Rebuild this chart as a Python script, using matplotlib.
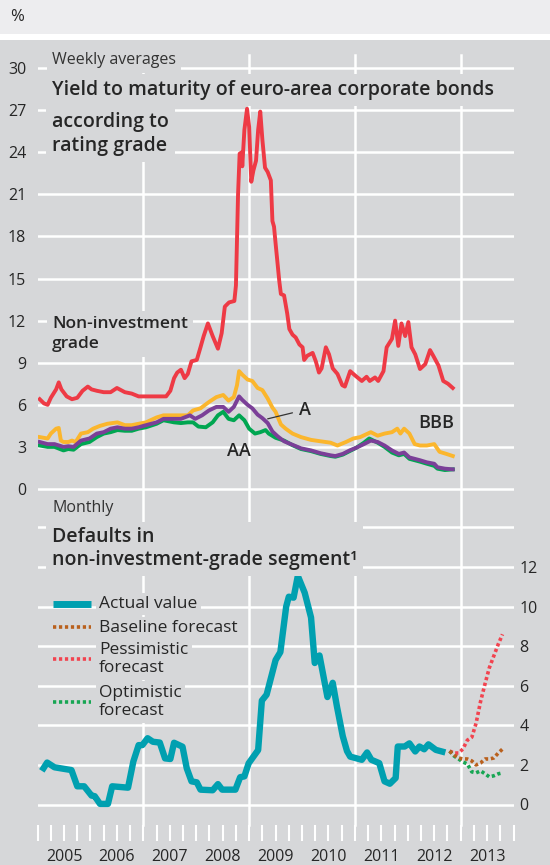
import numpy as np
import matplotlib
matplotlib.use("Agg")
import matplotlib.pyplot as plt
from matplotlib.lines import Line2D
import matplotlib.transforms as mtrans

plt.rcParams['font.family'] = ['Open Sans', 'DejaVu Sans']

# ---------------- data ----------------
# Yield to maturity (weekly averages), decimal years
hy_t = [2005.04, 2005.12, 2005.19, 2005.25, 2005.35, 2005.40, 2005.45, 2005.55, 2005.65, 2005.75,
        2005.85, 2005.95, 2006.02, 2006.12, 2006.25, 2006.38, 2006.50, 2006.65, 2006.78, 2006.91,
        2007.05, 2007.25, 2007.43, 2007.51, 2007.58, 2007.64, 2007.71, 2007.78, 2007.84, 2007.91,
        2008.01, 2008.08, 2008.14, 2008.22, 2008.31, 2008.41, 2008.48, 2008.54, 2008.62, 2008.72,
        2008.75, 2008.79, 2008.82, 2008.86, 2008.87, 2008.91, 2008.96, 2009.00, 2009.04, 2009.08,
        2009.13, 2009.17, 2009.21, 2009.25, 2009.30, 2009.35, 2009.41, 2009.44, 2009.47, 2009.50,
        2009.57, 2009.60, 2009.66, 2009.72, 2009.76, 2009.82, 2009.88, 2009.95, 2010.01, 2010.04,
        2010.10, 2010.20, 2010.26, 2010.32, 2010.37, 2010.45, 2010.51, 2010.58, 2010.67, 2010.76,
        2010.81, 2010.91, 2011.00, 2011.13, 2011.22, 2011.28, 2011.38, 2011.44, 2011.54, 2011.60,
        2011.70, 2011.76, 2011.82, 2011.88, 2011.95, 2012.01, 2012.07, 2012.14, 2012.23, 2012.33,
        2012.42, 2012.48, 2012.58, 2012.67, 2012.76, 2012.85]
hy_v = [6.4, 6.1, 6.0, 6.5, 7.1, 7.6, 7.1, 6.6, 6.4, 6.5,
        7.0, 7.3, 7.1, 7.0, 6.9, 6.9, 7.2, 6.9, 6.8, 6.6,
        6.6, 6.6, 6.6, 7.0, 7.9, 8.3, 8.5, 7.9, 8.2, 9.1,
        9.2, 10.1, 10.9, 11.8, 10.9, 10.0, 11.1, 13.0, 13.3, 13.4,
        14.5, 21.0, 23.9, 24.0, 23.0, 25.6, 27.1, 25.8, 21.9, 22.7,
        23.4, 25.6, 26.9, 24.9, 22.9, 22.6, 22.0, 19.1, 18.7, 17.5,
        14.8, 13.9, 13.8, 12.5, 11.4, 11.0, 10.8, 10.3, 10.1, 9.2,
        9.5, 9.7, 9.1, 8.3, 8.6, 10.1, 9.6, 8.6, 8.2, 7.4,
        7.3, 8.4, 8.1, 7.7, 8.0, 7.7, 7.95, 7.7, 8.4, 10.1,
        10.7, 12.0, 10.2, 11.8, 10.9, 11.9, 10.1, 9.6, 8.55, 8.9,
        9.9, 9.5, 8.8, 7.7, 7.5, 7.2]

bbb_t = [2005.04, 2005.19, 2005.25, 2005.35, 2005.40, 2005.44, 2005.49, 2005.58, 2005.65, 2005.72,
         2005.82, 2005.95, 2006.05, 2006.18, 2006.32, 2006.51, 2006.65, 2006.78, 2006.91, 2007.05,
         2007.25, 2007.38, 2007.58, 2007.71, 2007.84, 2007.94, 2008.08, 2008.24, 2008.38, 2008.51,
         2008.61, 2008.71, 2008.77, 2008.81, 2008.87, 2008.97, 2009.06, 2009.16, 2009.25, 2009.35,
         2009.44, 2009.50, 2009.60, 2009.69, 2009.82, 2009.98, 2010.17, 2010.35, 2010.54, 2010.67,
         2010.83, 2010.97, 2011.10, 2011.30, 2011.43, 2011.56, 2011.70, 2011.80, 2011.86, 2011.93,
         2012.03, 2012.13, 2012.23, 2012.36, 2012.50, 2012.60, 2012.73, 2012.85]
bbb_v = [3.7, 3.6, 3.95, 4.3, 4.35, 3.45, 3.35, 3.35, 3.45, 3.35,
         3.95, 4.05, 4.3, 4.5, 4.65, 4.75, 4.55, 4.55, 4.65, 4.75,
         5.1, 5.25, 5.25, 5.25, 5.25, 5.6, 5.75, 6.2, 6.55, 6.7,
         6.3, 6.55, 7.4, 8.4, 8.15, 7.8, 7.7, 7.2, 7.05, 6.45,
         5.8, 5.5, 4.6, 4.3, 3.95, 3.7, 3.5, 3.4, 3.3, 3.1,
         3.35, 3.6, 3.7, 4.05, 3.8, 3.95, 4.05, 4.3, 3.95, 4.3,
         3.95, 3.2, 3.1, 3.1, 3.2, 2.65, 2.5, 2.35]

a_t = [2005.04, 2005.19, 2005.32, 2005.49, 2005.58, 2005.68, 2005.82, 2005.98, 2006.12, 2006.25,
       2006.38, 2006.51, 2006.65, 2006.78, 2006.91, 2007.05, 2007.25, 2007.38, 2007.58, 2007.71,
       2007.88, 2007.98, 2008.11, 2008.24, 2008.38, 2008.51, 2008.61, 2008.71, 2008.81, 2008.87,
       2008.97, 2009.06, 2009.16, 2009.25, 2009.35, 2009.44, 2009.54, 2009.66, 2009.82, 2009.98,
       2010.17, 2010.35, 2010.54, 2010.63, 2010.77, 2010.90, 2011.03, 2011.17, 2011.30, 2011.43,
       2011.56, 2011.70, 2011.83, 2011.93, 2012.03, 2012.23, 2012.36, 2012.50, 2012.56, 2012.70,
       2012.85]
a_v = [3.35, 3.2, 3.2, 3.0, 3.05, 3.0, 3.45, 3.6, 3.95, 4.05,
       4.3, 4.4, 4.3, 4.3, 4.4, 4.55, 4.75, 5.0, 5.0, 5.0,
       5.25, 5.0, 5.25, 5.6, 5.85, 5.85, 5.5, 5.85, 6.6, 6.35,
       6.0, 5.75, 5.3, 5.05, 4.7, 4.1, 3.75, 3.4, 3.15, 2.9,
       2.75, 2.55, 2.4, 2.35, 2.5, 2.75, 2.95, 3.2, 3.45, 3.35,
       3.1, 2.75, 2.5, 2.6, 2.25, 2.05, 1.9, 1.8, 1.55, 1.45,
       1.4]

aa_t = [2005.04, 2005.19, 2005.32, 2005.49, 2005.58, 2005.68, 2005.82, 2005.98, 2006.12, 2006.25,
        2006.38, 2006.51, 2006.65, 2006.78, 2006.91, 2007.05, 2007.25, 2007.38, 2007.58, 2007.71,
        2007.84, 2007.94, 2008.04, 2008.18, 2008.31, 2008.41, 2008.51, 2008.61, 2008.71, 2008.81,
        2008.91, 2009.00, 2009.11, 2009.21, 2009.31, 2009.37, 2009.50, 2009.66, 2009.82, 2009.98,
        2010.17, 2010.35, 2010.54, 2010.63, 2010.77, 2010.90, 2011.03, 2011.17, 2011.27, 2011.43,
        2011.56, 2011.70, 2011.83, 2011.93, 2012.03, 2012.23, 2012.36, 2012.50, 2012.56, 2012.70,
        2012.85]
aa_v = [3.1, 3.0, 3.0, 2.75, 2.85, 2.8, 3.2, 3.35, 3.7, 3.95,
        4.05, 4.2, 4.15, 4.15, 4.3, 4.4, 4.65, 4.9, 4.75, 4.7,
        4.75, 4.75, 4.45, 4.4, 4.75, 5.25, 5.5, 5.0, 4.9, 5.25,
        4.9, 4.3, 3.95, 4.05, 4.2, 3.95, 3.65, 3.45, 3.12, 2.85,
        2.7, 2.5, 2.35, 2.3, 2.45, 2.7, 2.95, 3.3, 3.6, 3.3,
        3.0, 2.6, 2.4, 2.5, 2.15, 1.95, 1.8, 1.65, 1.45, 1.35,
        1.4]

# Defaults in non-investment-grade segment (monthly)
def_t = [2005.08, 2005.18, 2005.32, 2005.50, 2005.64, 2005.75, 2005.88, 2006.02, 2006.08, 2006.18,
         2006.33, 2006.41, 2006.71, 2006.81, 2006.91, 2006.98, 2007.08, 2007.18, 2007.31, 2007.41,
         2007.51, 2007.58, 2007.74, 2007.82, 2007.91, 2008.01, 2008.08, 2008.31, 2008.41, 2008.49,
         2008.74, 2008.83, 2008.91, 2008.99, 2009.17, 2009.24, 2009.33, 2009.50, 2009.59, 2009.70,
         2009.75, 2009.84, 2009.92, 2010.05, 2010.17, 2010.24, 2010.33, 2010.48, 2010.58, 2010.66,
         2010.77, 2010.85, 2010.91, 2011.13, 2011.23, 2011.31, 2011.46, 2011.56, 2011.66, 2011.77,
         2011.81, 2011.94, 2012.03, 2012.14, 2012.22, 2012.31, 2012.39, 2012.53, 2012.71]
def_v = [1.70, 2.12, 1.88, 1.80, 1.74, 0.92, 0.92, 0.45, 0.42, 0.03,
         0.03, 0.92, 0.85, 2.17, 3.0, 3.0, 3.35, 3.17, 3.13, 2.33,
         2.3, 3.12, 2.92, 1.83, 1.17, 1.12, 0.75, 0.72, 1.03, 0.75,
         0.75, 1.38, 1.42, 2.08, 2.75, 5.25, 5.55, 7.3, 7.7, 10.0,
         10.5, 10.45, 11.55, 10.7, 9.45, 7.15, 7.53, 5.43, 6.15, 4.95,
         3.45, 2.7, 2.42, 2.26, 2.63, 2.26, 2.09, 1.17, 1.05, 1.34,
         2.93, 2.93, 3.09, 2.68, 2.93, 2.79, 3.04, 2.76, 2.63]

fc_t = [2012.79, 2012.875, 2012.96, 2013.04, 2013.125, 2013.21, 2013.29, 2013.375, 2013.46,
        2013.54, 2013.625, 2013.71, 2013.79]
base_v = [2.7, 2.5, 2.35, 2.3, 2.3, 2.2, 2.0, 2.1, 2.3, 2.3, 2.35, 2.6, 2.8]
pess_v = [2.7, 2.6, 2.6, 2.8, 3.25, 3.4, 4.1, 5.2, 6.1, 6.9, 7.5, 8.1, 8.6]
opt_v = [2.7, 2.45, 2.3, 2.15, 2.05, 1.65, 1.6, 1.7, 1.55, 1.4, 1.45, 1.55, 1.6]

years = list(range(2005, 2014))
top_ticks = list(range(0, 31, 3))
bot_ticks = list(range(0, 15, 2))
bot_labels = ['0', '2', '4', '6', '8', '10', '12', '']

# ---------------- style ----------------
GRAY = '#d6d7d9'
LIGHT = '#ededef'
TXT = '#262626'
RED = '#ee3a45'
YEL = '#fbb62d'
PUR = '#7b3f98'
GRN = '#00a651'
TEAL = '#00a0b0'
BROWN = '#b9601d'
FRED = '#f2434f'
FGRN = '#17a653'

W, H = 550, 865
fig = plt.figure(figsize=(W / 100, H / 100), dpi=100, facecolor=GRAY)


def fx(x):
    return x / W


def fy(y):
    return 1 - y / H


# header band
fig.patches.append(plt.Rectangle((0, fy(34)), 1, 34 / H, transform=fig.transFigure,
                                 facecolor=LIGHT, edgecolor='none', zorder=0))
fig.patches.append(plt.Rectangle((0, fy(40)), 1, 6 / H, transform=fig.transFigure,
                                 facecolor='white', edgecolor='none', zorder=0))
fig.text(fx(10), fy(17), '%', fontsize=12, color=TXT, va='center', ha='left')

XL, XR = 37.6, 513.6
# top axes: 0 at y=489, 14.03 px per unit
t_lo, t_hi = -0.6, 31.5
t_ybot = 489 + (-t_lo) * 14.03
t_ytop = 489 - t_hi * 14.03
ax = fig.add_axes([fx(XL), fy(t_ybot), (XR - XL) / W, (t_ybot - t_ytop) / H])
# bottom axes: 0 at y=804.5, 19.79 px per unit
b_lo, b_hi = -0.5, 14.8
b_ybot = 804.5 + (-b_lo) * 19.79
b_ytop = 804.5 - b_hi * 19.79
bx = fig.add_axes([fx(XL), fy(b_ybot), (XR - XL) / W, (b_ybot - b_ytop) / H])

GW = 1.8
for a in (ax, bx):
    a.set_facecolor('none')
    a.set_xlim(2005, 2014)
    for s in a.spines.values():
        s.set_visible(False)
    a.grid(axis='y', color='white', lw=GW, zorder=1)
    a.set_axisbelow(True)

ax.set_ylim(t_lo, t_hi)
ax.set_yticks(top_ticks)
ax.tick_params(axis='y', length=0, pad=8.2, labelsize=11.5, labelcolor=TXT)
ax.tick_params(axis='x', bottom=False, labelbottom=False)

bx.set_ylim(b_lo, b_hi)
bx.set_yticks(bot_ticks)
bx.set_yticklabels(bot_labels)
bx.yaxis.tick_right()
bx.tick_params(axis='y', length=0, pad=4.0, labelsize=11.5, labelcolor=TXT,
               left=False, labelleft=False, right=False, labelright=True)

# x ticks (quarters)
bx.spines['bottom'].set_position(('outward', 7.6))
bx.set_xticks(np.arange(2005, 2014.01, 0.25))
bx.tick_params(axis='x', which='major', length=11.5, width=1.5, color='white',
               direction='out', labelbottom=False)
# year labels, centred in each year
ytrans = mtrans.blended_transform_factory(bx.transData, fig.transFigure)
for yv in years:
    bx.text(yv + 0.5, fy(857), str(yv), transform=ytrans, ha='center', va='center',
            fontsize=11.5, color=TXT, clip_on=False)

# vertical gridlines every two years spanning both panels
ymin = (t_ybot - 825) / (t_ybot - t_ytop)
ymax = (t_ybot - 55) / (t_ybot - t_ytop)
for yv in [2007, 2009, 2011, 2013]:
    ax.axvline(yv, ymin=ymin, ymax=ymax, color='white', lw=GW, clip_on=False, zorder=1)

# ---------------- top panel lines ----------------
LW = 2.8
ax.plot(bbb_t, bbb_v, color=YEL, lw=LW, zorder=3, solid_joinstyle='round')
ax.plot(aa_t, aa_v, color=GRN, lw=LW, zorder=3, solid_joinstyle='round')
ax.plot(a_t, a_v, color=PUR, lw=LW, zorder=4, solid_joinstyle='round')
ax.plot(hy_t, hy_v, color=RED, lw=LW, zorder=4, solid_joinstyle='round')

ax.annotate('A', xy=(2009.35, 5.0), xytext=(2010.06, 5.65), fontsize=13, color=TXT,
            fontweight='semibold', ha='center', va='center',
            arrowprops=dict(arrowstyle='-', color='#333333', lw=0.9, shrinkA=3, shrinkB=0))
ax.text(2008.81, 2.74, 'AA', fontsize=13, color=TXT, fontweight='semibold', ha='center', va='center')
ax.text(2012.53, 4.7, 'BBB', fontsize=13, color=TXT, fontweight='semibold', ha='center', va='center')

# ---------------- bottom panel lines ----------------
bx.plot(def_t, def_v, color=TEAL, lw=4.6, zorder=3, solid_joinstyle='round', solid_capstyle='butt')
DOT = (0, (0.9, 0.75))
bx.plot(fc_t, pess_v, color=FRED, lw=2.6, ls=DOT, zorder=4)
bx.plot(fc_t, base_v, color=BROWN, lw=2.6, ls=DOT, zorder=5)
bx.plot(fc_t, opt_v, color=FGRN, lw=2.6, ls=DOT, zorder=4)

# ---------------- texts ----------------
box = dict(boxstyle='square,pad=0.3', facecolor=GRAY, edgecolor='none')
fig.text(fx(52), fy(60), 'Weekly averages', fontsize=11.5, color='#333333', va='center', ha='left', bbox=box)
fig.text(fx(52), fy(90), 'Yield to maturity of euro-area corporate bonds', fontsize=14,
         fontweight='semibold', color=TXT, va='center', ha='left', bbox=box)
fig.text(fx(52), fy(134), 'according to\nrating grade', fontsize=14, fontweight='semibold',
         color=TXT, va='center', ha='left', linespacing=1.25, bbox=box)
fig.text(fx(52), fy(334), 'Non-investment\ngrade', fontsize=12.5, fontweight='semibold',
         color=TXT, va='center', ha='left', linespacing=1.3, bbox=box)
fig.text(fx(52), fy(508), 'Monthly', fontsize=11.5, color='#333333', va='center', ha='left', bbox=box)
fig.text(fx(52), fy(549), 'Defaults in\nnon-investment-grade segment\u00b9', fontsize=14,
         fontweight='semibold', color=TXT, va='center', ha='left', linespacing=1.2, bbox=box)

# legend
leg = [(604, 604, 'Actual value', TEAL, 5.0, '-'),
       (628, 627, 'Baseline forecast', BROWN, 2.6, DOT),
       (659, 659, 'Pessimistic\nforecast', FRED, 2.6, DOT),
       (702, 702, 'Optimistic\nforecast', FGRN, 2.6, DOT)]
for ty, ly, lab, col, lw, ls in leg:
    fig.add_artist(Line2D([fx(53), fx(91)], [fy(ly), fy(ly)], color=col, lw=lw, ls=ls,
                          solid_capstyle='butt', transform=fig.transFigure, zorder=6))
    fig.text(fx(99), fy(ty), lab, fontsize=12.5, color=TXT, va='center', ha='left',
             linespacing=1.18, bbox=dict(boxstyle='square,pad=0.2', facecolor=GRAY, edgecolor='none'))

fig.savefig('out.png', dpi=100, facecolor=GRAY)
